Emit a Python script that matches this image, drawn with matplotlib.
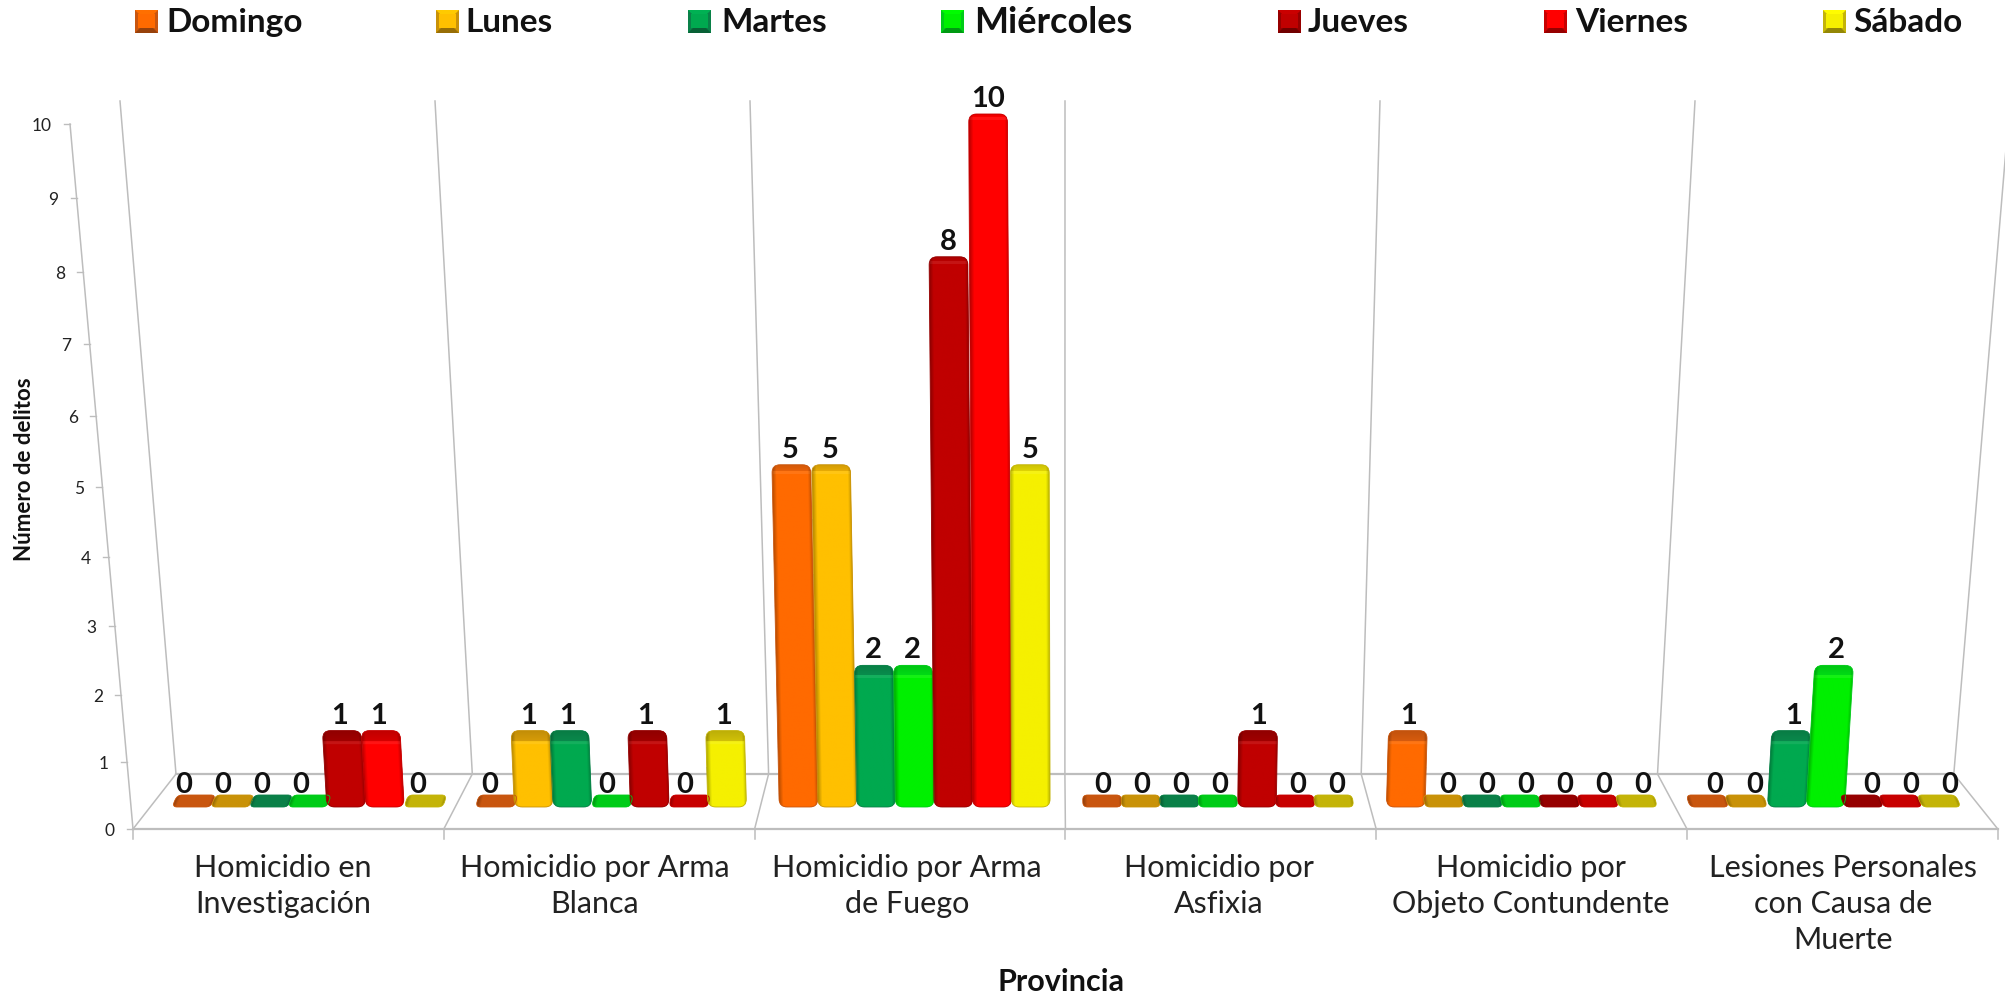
import numpy as np
import matplotlib
matplotlib.use("Agg")
import matplotlib.pyplot as plt
from matplotlib.patches import FancyBboxPatch, Polygon, Rectangle
from matplotlib.transforms import Affine2D

plt.rcParams['font.family'] = ['Lato', 'DejaVu Sans']

# data
categorias = ["Homicidio en\nInvestigación", "Homicidio por Arma\nBlanca",
              "Homicidio por Arma\nde Fuego", "Homicidio por\nAsfixia",
              "Homicidio por\nObjeto Contundente",
              "Lesiones Personales\ncon Causa de\nMuerte"]
dias = ["Domingo", "Lunes", "Martes", "Miércoles", "Jueves", "Viernes", "Sábado"]
domingo = [0, 0, 5, 0, 1, 0]
lunes = [0, 1, 5, 0, 0, 0]
martes = [0, 1, 2, 0, 0, 1]
miercoles = [0, 0, 2, 0, 0, 2]
jueves = [1, 1, 8, 1, 0, 0]
viernes = [1, 0, 10, 0, 0, 0]
sabado = [0, 1, 5, 0, 0, 0]
series = [domingo, lunes, martes, miercoles, jueves, viernes, sabado]
marcas_y = list(range(0, 11))

# colours: front of the bar, top of the bar
frentes = ["#FF6A00", "#FFC000", "#00A94F", "#00F000", "#C00000", "#FF0000", "#F5F000"]
tapas = ["#C9560F", "#C99208", "#0A8048", "#00CC18", "#960000", "#C80000", "#C4B408"]
GRIS = "#BDBDBD"

W, H = 2005, 996
# perspective frame, in pixels
FRENTE_X0, FRENTE_PASO, FRENTE_Y = 133, 310.8, 829
FONDO_X0, FONDO_PASO, FONDO_Y = 176, 296.3, 774
TECHO_X0, TECHO_PASO, TECHO_Y = 120, 315, 101
CENTRO_X = 1065
# bars, in pixels
BAR_X0, BAR_PASO, BAR_ANCHO = 172, 303.6, 38.7
BAR_CERO, BAR_BASE = 795, 807
# category labels, in pixels
ETIQ_X0, ETIQ_PASO, ETIQ_Y = 283, 312, 854
# legend x positions, in pixels
LEY_CUADRO = [135, 436, 688, 941, 1278, 1544, 1823]
LEY_TEXTO = [166, 465, 721, 974, 1308, 1575, 1853]
LEY_TAM = [24, 24, 24, 26, 24, 24, 24]


def altura_barra(v):
    # the value axis grows a bit towards the top because of the 3D view
    return 64 * v + 0.41 * v ** 2


def valor_barra(h):
    return (-64 + np.sqrt(np.maximum(64 ** 2 + 4 * 0.41 * h, 0))) / (2 * 0.41)


def altura_frente(v):
    return 66.3 * v + 0.42 * v ** 2


def ejes_pixeles(z):
    a = fig.add_axes([0, 0, 1, 1], zorder=z)
    a.set_xlim(0, W)
    a.set_ylim(H, 0)
    a.set_autoscale_on(False)
    a.axis("off")
    a.patch.set_alpha(0)
    return a


def textura(frente, tapa, alto, v, ancho=40):
    f = np.array(matplotlib.colors.to_rgb(frente))
    t = np.array(matplotlib.colors.to_rgb(tapa))
    # the top face gets thinner and closer to the front colour on tall bars
    mezcla = v / 12
    t = t * (1 - mezcla) + f * mezcla
    tapa_px = max(11 - 0.8 * v, 3)
    filas = max(int(round(alto)), 2)
    img = np.zeros((filas, ancho, 3))
    u = np.linspace(0, 1, ancho)
    lado = np.ones(ancho)
    lado = np.where(u < 0.1, 0.75 + 0.25 * u / 0.1, lado)
    lado = np.where(u > 0.93, 1 - 0.2 * (u - 0.93) / 0.07, lado)
    for r in range(filas):
        if r < tapa_px:
            c = t * (0.94 + 0.1 * r / tapa_px)
        elif r < tapa_px + 3 and v > 0:
            c = f * 0.92 + 0.08
        else:
            c = f
        if v == 0:
            c = t
        img[r] = np.clip(c[None, :] * lado[:, None], 0, 1)
    return img


fig = plt.figure(figsize=(W / 100, H / 100), dpi=100, facecolor="white")
marco = ejes_pixeles(0)

# bar axes, with the real values on a perspective scale
h_top = altura_barra(10)
ax = fig.add_axes([BAR_X0 / W, (H - BAR_BASE) / H, BAR_PASO * 6 / W,
                   (BAR_BASE - BAR_CERO + h_top) / H], zorder=1)
ax.set_yscale("function", functions=(altura_barra, valor_barra))
ax.set_xlim(0, 6)
ax.set_ylim(valor_barra(-(BAR_BASE - BAR_CERO)), 10)
ax.axis("off")
ax.patch.set_alpha(0)
capa = ejes_pixeles(2)

# walls and floor
n = len(categorias)
marco.plot([FRENTE_X0, FRENTE_X0 + n * FRENTE_PASO], [FRENTE_Y, FRENTE_Y], color=GRIS, lw=1.6)
marco.plot([FONDO_X0, FONDO_X0 + n * FONDO_PASO], [FONDO_Y, FONDO_Y], color=GRIS, lw=1.6)
for i in range(n + 1):
    fx = FRENTE_X0 + i * FRENTE_PASO
    bx = FONDO_X0 + i * FONDO_PASO
    tx = TECHO_X0 + i * TECHO_PASO
    marco.plot([fx, bx], [FRENTE_Y, FONDO_Y], color=GRIS, lw=1.1)
    marco.plot([bx, tx], [FONDO_Y, TECHO_Y], color=GRIS, lw=1.1)
    marco.plot([fx, fx], [FRENTE_Y, FRENTE_Y + 10], color=GRIS, lw=1.1)

# slanted value axis
alto_total = altura_frente(10)
for v in marcas_y:
    h = altura_frente(v)
    x = FRENTE_X0 - 63 * h / alto_total
    y = FRENTE_Y - h
    marco.plot([x - 6, x], [y, y], color=GRIS, lw=1)
    marco.text(x - 18, y + 2, str(v), ha="right", va="center", fontsize=12.5, color="#222222")
marco.plot([FRENTE_X0, FRENTE_X0 - 63], [FRENTE_Y, FRENTE_Y - alto_total], color=GRIS, lw=1.1)

# bars
base = valor_barra(-(BAR_BASE - BAR_CERO))
ancho = BAR_ANCHO / BAR_PASO
for j, valores in enumerate(series):
    pos = np.arange(n) + (j + 0.5) * ancho
    vals = np.array(valores, dtype=float)
    barras = ax.bar(pos, vals - base, width=ancho, bottom=base, color=frentes[j], linewidth=0)
    for b, v in zip(barras, valores):
        e = b.get_window_extent()
        x0, x1 = e.x0, e.x1
        y0, y1 = H - e.y1, H - e.y0
        xc = (x0 + x1) / 2
        # bars lean away from the centre, flat ones lie on the floor and lean to it
        if v == 0:
            s = -(xc - CENTRO_X) * 0.0005
            etiq_x = xc + (xc - CENTRO_X) * 0.009
            sube = 2
        else:
            s = (xc - CENTRO_X) * 8e-5
            etiq_x = xc + s * (y1 - y0) + (xc - CENTRO_X) * 0.003
            sube = 7
        cizalla = Affine2D.from_values(1, 0, -s, 1, s * y1, 0) + capa.transData
        r = 5 if v == 0 else 8
        forma = FancyBboxPatch((x0, y0), x1 - x0, y1 - y0,
                               boxstyle=f"round,pad=0,rounding_size={r}",
                               facecolor="none", edgecolor=tapas[j], linewidth=0.6, zorder=3)
        capa.add_patch(forma)
        forma.set_transform(cizalla)
        b.set_clip_path(forma)
        im = capa.imshow(textura(frentes[j], tapas[j], y1 - y0, v), extent=(x0, x1, y1, y0),
                         aspect="auto", zorder=2, interpolation="bilinear")
        im.set_transform(cizalla)
        im.set_clip_path(forma)
        capa.text(etiq_x, y0 - sube, str(v), ha="center", va="baseline",
                  fontsize=21, fontweight="bold", color="#111111", zorder=4)

# category labels and axis titles
for i, c in enumerate(categorias):
    marco.text(ETIQ_X0 + i * ETIQ_PASO, ETIQ_Y, c, ha="center", va="top",
               fontsize=22, color="#222222", linespacing=1.35)
marco.text(1061, 982, "Provincia", ha="center", va="center", fontsize=22,
           fontweight="bold", color="#111111")
marco.text(25, 469, "Número de delitos", ha="center", va="center", rotation=90,
           fontsize=16, fontweight="bold", color="#111111")

# legend with bevelled squares
for j, d in enumerate(dias):
    x, y, s = LEY_CUADRO[j], 10, 23
    f = np.array(matplotlib.colors.to_rgb(frentes[j]))
    t = np.array(matplotlib.colors.to_rgb(tapas[j]))
    medio = (x + s / 2, y + s / 2)
    marco.add_patch(Rectangle((x, y), s, s, facecolor=t, edgecolor="none"))
    marco.add_patch(Polygon([(x, y + s), (x + s, y + s), medio], facecolor=t * 0.75, edgecolor="none"))
    marco.add_patch(Polygon([(x, y), (x + s, y), medio], facecolor=np.clip(f * 1.05, 0, 1), edgecolor="none"))
    marco.add_patch(Rectangle((x + 3, y + 4), s - 6, s - 9, facecolor=frentes[j], edgecolor="none"))
    marco.text(LEY_TEXTO[j], 22, d, ha="left", va="center", fontsize=LEY_TAM[j],
               fontweight="bold", color="#111111")

fig.savefig("out.png", dpi=100)
